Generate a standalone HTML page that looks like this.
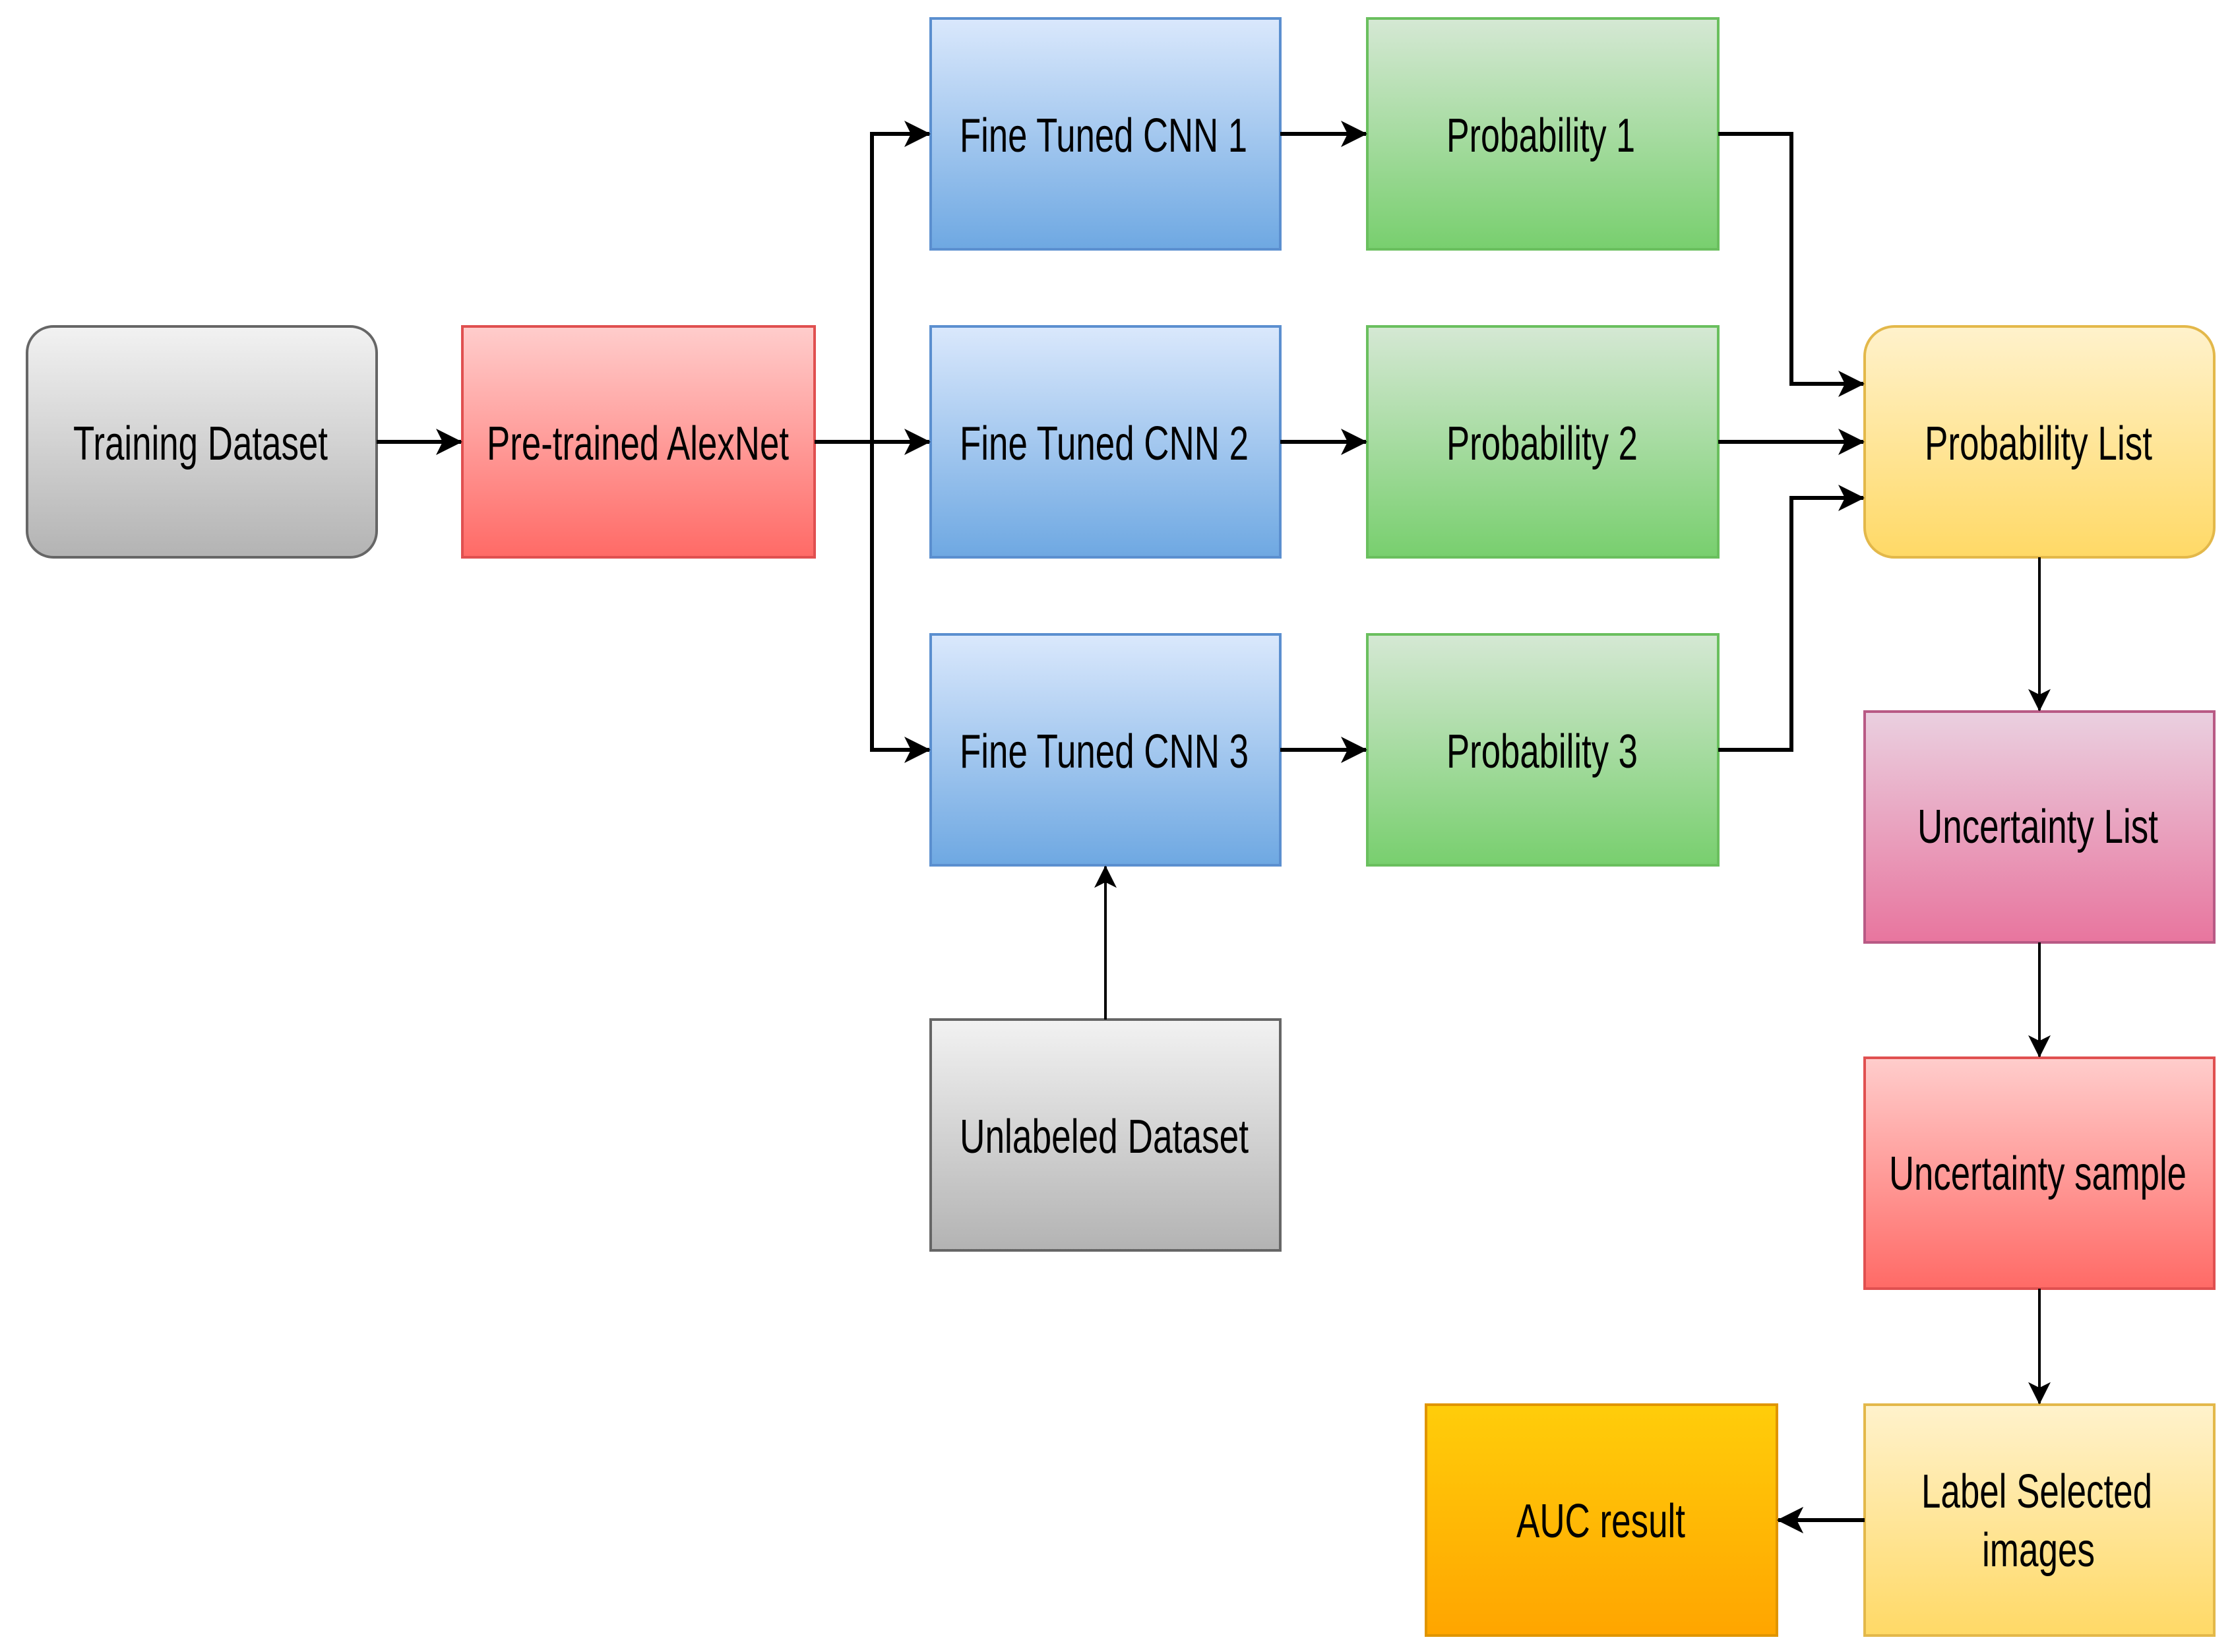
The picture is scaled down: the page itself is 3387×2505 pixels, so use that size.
<!DOCTYPE html>
<html><head><meta charset="utf-8"><style>html,body{margin:0;padding:0;background:#fff}svg{display:block}</style></head><body>
<svg width="3387" height="2505" viewBox="0 0 3387 2505" xmlns="http://www.w3.org/2000/svg">
<defs>
<linearGradient id="gray" x1="0" y1="0" x2="0" y2="1"><stop offset="0" stop-color="#f2f2f2"/><stop offset="1" stop-color="#b3b3b3"/></linearGradient>
<linearGradient id="red" x1="0" y1="0" x2="0" y2="1"><stop offset="0" stop-color="#ffcdcc"/><stop offset="1" stop-color="#ff6a66"/></linearGradient>
<linearGradient id="blue" x1="0" y1="0" x2="0" y2="1"><stop offset="0" stop-color="#dae8fc"/><stop offset="1" stop-color="#6ea8e2"/></linearGradient>
<linearGradient id="green" x1="0" y1="0" x2="0" y2="1"><stop offset="0" stop-color="#d5e8d4"/><stop offset="1" stop-color="#78cf6e"/></linearGradient>
<linearGradient id="yellow" x1="0" y1="0" x2="0" y2="1"><stop offset="0" stop-color="#fff2cc"/><stop offset="1" stop-color="#ffd966"/></linearGradient>
<linearGradient id="pink" x1="0" y1="0" x2="0" y2="1"><stop offset="0" stop-color="#ead0e0"/><stop offset="1" stop-color="#e8759e"/></linearGradient>
<linearGradient id="orange" x1="0" y1="0" x2="0" y2="1"><stop offset="0" stop-color="#ffcd0a"/><stop offset="1" stop-color="#ffa500"/></linearGradient>
<marker id="ah" viewBox="0 0 40 40" refX="38" refY="20" markerWidth="40" markerHeight="40" markerUnits="userSpaceOnUse" orient="auto"><path d="M0,0 L40,20 L0,40 L10,20 Z" fill="#000"/></marker>
<marker id="ah2" viewBox="0 0 40 40" refX="38" refY="20" markerWidth="34" markerHeight="34" markerUnits="userSpaceOnUse" orient="auto"><path d="M0,0 L40,20 L0,40 L10,20 Z" fill="#000"/></marker>
</defs>
<g stroke-width="4">
<rect x="41" y="495" width="530" height="350" rx="40" fill="url(#gray)" stroke="#666"/>
<rect x="701" y="495" width="534" height="350" fill="url(#red)" stroke="#e05050"/>
<rect x="1411" y="28" width="530" height="350" fill="url(#blue)" stroke="#5b8fcf"/>
<rect x="1411" y="495" width="530" height="350" fill="url(#blue)" stroke="#5b8fcf"/>
<rect x="1411" y="962" width="530" height="350" fill="url(#blue)" stroke="#5b8fcf"/>
<rect x="2073" y="28" width="532" height="350" fill="url(#green)" stroke="#6abf5e"/>
<rect x="2073" y="495" width="532" height="350" fill="url(#green)" stroke="#6abf5e"/>
<rect x="2073" y="962" width="532" height="350" fill="url(#green)" stroke="#6abf5e"/>
<rect x="1411" y="1546" width="530" height="350" fill="url(#gray)" stroke="#666"/>
<rect x="2827" y="495" width="530" height="350" rx="45" fill="url(#yellow)" stroke="#e3b84a"/>
<rect x="2827" y="1079" width="530" height="350" fill="url(#pink)" stroke="#b85a85"/>
<rect x="2827" y="1604" width="530" height="350" fill="url(#red)" stroke="#e05050"/>
<rect x="2827" y="2130" width="530" height="350" fill="url(#yellow)" stroke="#e3b84a"/>
<rect x="2162" y="2130" width="532" height="350" fill="url(#orange)" stroke="#e09500"/>
</g>
<g fill="none" stroke="#000" stroke-width="6">
<path d="M571,670 H699" marker-end="url(#ah)"/>
<path d="M1235,670 H1409" marker-end="url(#ah)"/>
<path d="M1322,670 V203 H1409" marker-end="url(#ah)"/>
<path d="M1322,670 V1137 H1409" marker-end="url(#ah)"/>
<path d="M1941,203 H2071" marker-end="url(#ah)"/>
<path d="M1941,670 H2071" marker-end="url(#ah)"/>
<path d="M1941,1137 H2071" marker-end="url(#ah)"/>
<path d="M2605,203 H2716 V582 H2825" marker-end="url(#ah)"/>
<path d="M2605,670 H2825" marker-end="url(#ah)"/>
<path d="M2605,1137 H2716 V755 H2825" marker-end="url(#ah)"/>
<path d="M2716,2305 H2696" marker-end="url(#ah)"/>
<path d="M2827,2305 H2696" marker-end="url(#ah)"/>
</g>
<g fill="none" stroke="#000" stroke-width="4">
<path d="M1676,1546 V1314" marker-end="url(#ah2)"/>
<path d="M3092,845 V1077" marker-end="url(#ah2)"/>
<path d="M3092,1429 V1602" marker-end="url(#ah2)"/>
<path d="M3092,1954 V2128" marker-end="url(#ah2)"/>
</g>
<g font-family="'Liberation Sans Narrow','Liberation Sans',sans-serif" font-size="72" fill="#000" lengthAdjust="spacingAndGlyphs">
<text x="111" y="697" textLength="386" lengthAdjust="spacingAndGlyphs">Training Dataset</text>
<text x="738" y="697" textLength="458" lengthAdjust="spacingAndGlyphs">Pre-trained AlexNet</text>
<text x="1455" y="230" textLength="436" lengthAdjust="spacingAndGlyphs">Fine Tuned CNN 1</text>
<text x="1455" y="697" textLength="438" lengthAdjust="spacingAndGlyphs">Fine Tuned CNN 2</text>
<text x="1455" y="1164" textLength="438" lengthAdjust="spacingAndGlyphs">Fine Tuned CNN 3</text>
<text x="2193" y="230" textLength="286" lengthAdjust="spacingAndGlyphs">Probability 1</text>
<text x="2193" y="697" textLength="290" lengthAdjust="spacingAndGlyphs">Probability 2</text>
<text x="2193" y="1164" textLength="290" lengthAdjust="spacingAndGlyphs">Probability 3</text>
<text x="1455" y="1748" textLength="438" lengthAdjust="spacingAndGlyphs">Unlabeled Dataset</text>
<text x="2918" y="697" textLength="345" lengthAdjust="spacingAndGlyphs">Probability List</text>
<text x="2907" y="1278" textLength="365" lengthAdjust="spacingAndGlyphs">Uncertainty List</text>
<text x="2864" y="1804" textLength="451" lengthAdjust="spacingAndGlyphs">Uncertainty sample</text>
<text x="2913" y="2286" textLength="350" lengthAdjust="spacingAndGlyphs">Label Selected</text>
<text x="3005" y="2375" textLength="171" lengthAdjust="spacingAndGlyphs">images</text>
<text x="2299" y="2331" textLength="256" lengthAdjust="spacingAndGlyphs">AUC result</text>
</g>
</svg>
</body></html>
